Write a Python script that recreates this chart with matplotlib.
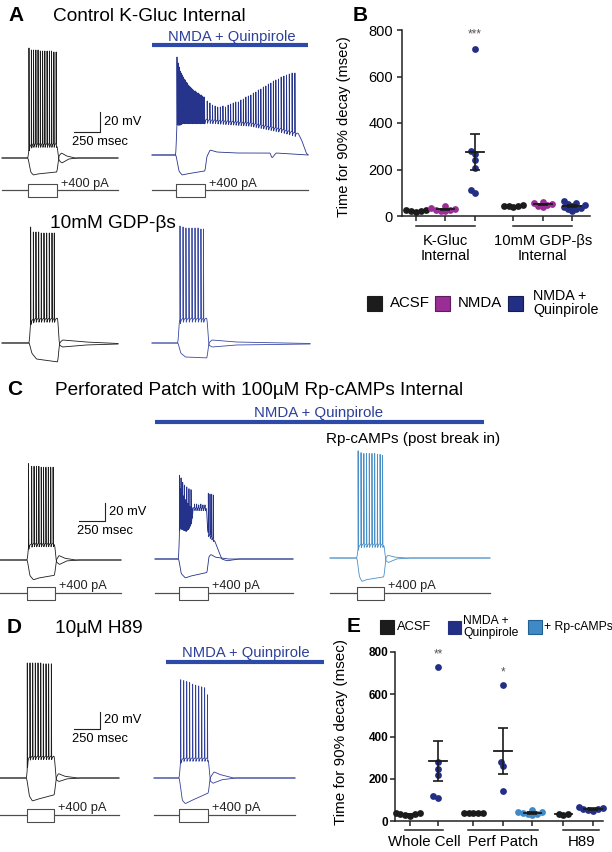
import numpy as np
import matplotlib
matplotlib.use('Agg')
import matplotlib.pyplot as plt
from matplotlib.patches import Rectangle
from matplotlib.lines import Line2D

plt.rcParams['font.family'] = ['Liberation Sans', 'DejaVu Sans']

# ---------------------------------------------------------------
# Membrane potential traces (ms, mV).
# *_dep / *_hyp : (time, mV) key points of the +400 / -400 pA sweeps
# *_spk_t / *_spk_v : spike times and spike peak voltages
# ---------------------------------------------------------------

# A - control K-Gluc, ACSF
ctl_dep = [(0, -70), (250, -70), (262, -57), (300, -55), (528, -55), (545, -72), (575, -75), (640, -71), (720, -70), (1114, -70)]
ctl_hyp = [(0, -70), (250, -70), (275, -84), (300, -87), (340, -86), (528, -84), (545, -68), (570, -65), (620, -68), (700, -70), (1114, -70)]
ctl_spk_t = [259, 282, 303, 325, 346, 368, 390, 411, 433, 455, 476, 498, 520]
ctl_spk_v = [40, 38, 38, 38, 38, 37, 37, 37, 37, 37, 37, 36, 36]

# A - control K-Gluc, NMDA + quinpirole
nq_dep = [(0, -70), (230, -70), (238, -36), (300, -33), (509, -33), (528, -34), (941, -37), (1229, -43), (1402, -48), (1440, -56), (1480, -68), (1498, -70)]
nq_hyp = [(0, -70), (230, -70), (258, -86), (288, -90), (330, -89), (509, -86), (525, -72), (557, -65), (620, -67), (800, -68), (1133, -68), (1152, -73), (1190, -68), (1498, -70)]
nq_spk_t = [240, 251, 261, 270, 280, 290, 300, 309, 319, 329, 339, 348, 358, 368, 378, 387, 397, 407, 417, 426, 436, 446, 456, 465, 475, 485, 495, 504,
            530, 556, 581, 606, 631, 656, 681, 706, 731, 755, 780, 804, 829, 853, 877, 901, 925, 949, 973, 997, 1021, 1045, 1069, 1093, 1117, 1141,
            1165, 1189, 1214, 1240, 1266, 1292, 1318, 1345, 1372]
nq_spk_v = [28, 22, 18, 14, 12, 10, 8, 6, 5, 3, 2, 0, -1, -2, -3, -4, -5, -6, -6, -7, -8, -8, -9, -10, -10, -11, -12, -12,
            -16, -18, -20, -21, -22, -22, -21, -22, -20, -19, -18, -17, -17, -15, -14, -12, -11, -10, -8, -7, -5, -4, -2, -1, 1, 2,
            4, 5, 6, 8, 9, 10, 11, 12, 12]

# A - 10mM GDP-bs, ACSF
gdp_dep = [(0, -70), (262, -70), (275, -47), (320, -45), (535, -45), (550, -72), (580, -74), (800, -72), (1114, -71)]
gdp_hyp = [(0, -70), (262, -70), (285, -80), (330, -86), (535, -89), (552, -70), (580, -67), (800, -69), (1114, -70.5)]
gdp_spk_t = [275, 301, 326, 352, 377, 403, 429, 454, 480, 502]
gdp_spk_v = [46, 41, 41, 41, 40, 40, 40, 40, 40, 40]

# A - 10mM GDP-bs, NMDA + quinpirole
gdpnq_dep = [(0, -70), (250, -70), (262, -47), (300, -45), (528, -45), (545, -72), (575, -74), (800, -72), (1517, -71)]
gdpnq_hyp = [(0, -70), (250, -70), (275, -80), (320, -84), (528, -85), (545, -70), (575, -67), (800, -69), (1517, -70.5)]
gdpnq_spk_t = [269, 298, 326, 355, 384, 413, 442, 470, 494]
gdpnq_spk_v = [47, 46, 45, 45, 45, 45, 45, 44, 44]

# C - perforated patch, ACSF
pp_dep = [(0, -70), (262, -70), (275, -53), (320, -51), (524, -51), (540, -72), (570, -75), (640, -71), (750, -70), (1163, -70)]
pp_hyp = [(0, -70), (262, -70), (285, -87), (320, -92), (370, -90), (524, -87), (540, -70), (565, -65), (620, -68), (720, -70), (1163, -70)]
pp_spk_t = [274, 304, 327, 350, 373, 396, 418, 441, 464, 487, 510]
pp_spk_v = [37, 34, 34, 34, 34, 33, 33, 33, 33, 33, 33]

# C - perforated patch, NMDA + quinpirole
ppnq_dep = [(0, -70), (228, -70), (236, -30), (300, -33), (350, -26), (365, -12), (495, -12), (505, -40), (565, -46), (590, -55), (640, -70), (690, -72), (800, -70), (1325, -70)]
ppnq_hyp = [(0, -70), (228, -70), (250, -86), (290, -91), (340, -89), (500, -85), (515, -68), (535, -65), (580, -68), (700, -70), (1325, -70)]
ppnq_spk_t = [235, 242, 250, 258, 266, 274, 282, 290, 297, 305, 313, 319, 326, 336, 346, 355, 380, 400, 420, 440, 460, 480, 512, 528, 544, 560]
ppnq_spk_v = [23, 8, 20, 2, 15, 0, 12, -4, -6, 10, -8, -9, 8, -12, 7, -13, -9, -9, -10, -9, -10, -10, 3, 2, 2, 1]

# C - Rp-cAMPs (post break in)
rp_dep = [(0, -70), (259, -70), (272, -56), (310, -54), (518, -54), (535, -73), (560, -75), (640, -71), (760, -70), (1536, -70)]
rp_hyp = [(0, -70), (259, -70), (280, -90), (305, -96), (350, -94), (518, -91), (535, -70), (555, -67), (620, -69), (720, -70), (1536, -70)]
rp_spk_t = [270, 298, 325, 351, 377, 403, 429, 455, 481, 505]
rp_spk_v = [49, 47, 46, 46, 46, 46, 46, 45, 45, 44]

# D - 10uM H89, ACSF
h89_dep = [(0, -70), (256, -70), (268, -47), (300, -45), (522, -45), (538, -72), (565, -74), (640, -71), (760, -70), (1142, -70)]
h89_hyp = [(0, -70), (256, -70), (280, -90), (310, -96), (360, -94), (522, -89), (538, -70), (560, -65), (620, -68), (740, -70), (1142, -70)]
h89_spk_t = [262, 288, 314, 339, 365, 391, 416, 442, 467, 493]
h89_spk_v = [60, 60, 60, 60, 60, 60, 59, 59, 59, 59]

# D - 10uM H89, NMDA + quinpirole
h89nq_dep = [(0, -70), (243, -70), (255, -49), (290, -47), (522, -47), (538, -73), (565, -76), (650, -72), (780, -70), (1354, -70)]
h89nq_hyp = [(0, -70), (243, -70), (270, -95), (300, -99), (350, -96), (522, -87), (538, -70), (575, -63), (630, -66), (760, -70), (1354, -70)]
h89nq_spk_t = [256, 285, 314, 342, 371, 400, 429, 458, 486, 513]
h89nq_spk_v = [41, 40, 39, 38, 36, 35, 34, 33, 32, 24]

# ---------------------------------------------------------------
# Time for 90% decay (msec)
# ---------------------------------------------------------------
b_groups = ['K-Gluc\nInternal', '10mM GDP-βs\nInternal']
kg_acsf = [16, 20, 22, 25, 26]
kg_nmda = [20, 22, 25, 27, 30, 35, 44]
kg_nq = [718, 278, 268, 240, 208, 110, 100]
gdp_acsf = [40, 42, 43, 44, 46]
gdp_nmda = [38, 45, 48, 52, 55, 60]
gdp_nq = [22, 28, 32, 35, 38, 42, 46, 52, 58, 65]

e_groups = ['Whole Cell', 'Perf Patch', 'H89']
wc_acsf = [25, 28, 31, 33, 36, 40]
wc_nq = [728, 280, 248, 218, 120, 110]
pp_acsf = [36, 37, 38, 39, 40]
pp_nq = [645, 278, 258, 140]
pp_rp = [28, 32, 35, 38, 41, 44, 50]
h89_acsf = [30, 32, 34]
h89_nq = [48, 52, 55, 58, 62, 66]

# colours
BLACK = '#1c1c1c'
MAGENTA = '#9b2d96'
NAVY = '#232f85'
LIGHT = '#3f8ac6'
BAR_BLUE = '#2d4aa8'
TXT_BLUE = '#2c4099'

W, H = 612, 852
fig = plt.figure(figsize=(W / 100, H / 100), dpi=100)


def box(left, top, width, height):
    return [left / W, 1 - (top + height) / H, width / W, height / H]


def fx(x):
    return x / W


def fy(y):
    return 1 - y / H


REST = -70
DT = 0.5
STEP_PA = 400
PA_PX = 400 / 6.5
AHP_MV = 4


def smooth(v, ms):
    n = max(int(ms / DT), 1)
    k = np.ones(n) / n
    vp = np.concatenate([np.full(n, v[0]), v, np.full(n, v[-1])])
    return np.convolve(vp, k, mode='same')[n:-n]


def build_vm(length, keys, spk_t=(), spk_v=()):
    t = np.arange(0, length + DT, DT)
    kt, kv = zip(*keys)
    v = smooth(np.interp(t, kt, kv), 12)
    for ts, pk in zip(spk_t, spk_v):
        base = np.interp(ts, t, v)
        shape = np.where(t <= ts, 1 - (ts - t) / 1.0, 1 - (t - ts) / 2.5)
        after = t - ts
        ahp = np.where(after > 0, np.clip(after / 3.0, 0, 1)
                       * np.exp(-np.clip(after - 3, 0, None) / 8.0), 0)
        v = v + (pk - base) * np.clip(shape, 0, None) - AHP_MV * ahp
    return t, v


def draw_cell(x0, x1, y_base, ms_px, mv_px, t_on, t_off, dep, hyp, spk_t, spk_v,
              color, y_cur=None, fs=9):
    length = (x1 - x0) * ms_px
    ax = fig.add_axes(box(x0, y_base - 150, x1 - x0, 210))
    ax.set_xlim(0, length)
    ax.set_ylim(REST - 60 * mv_px, REST + 150 * mv_px)
    ax.axis('off')
    for keys, st, sv in ((hyp, (), ()), (dep, spk_t, spk_v)):
        t, v = build_vm(length, keys, st, sv)
        ax.plot(t, v, color=color, lw=0.6, clip_on=False)
    if y_cur is not None:
        cax = fig.add_axes(box(x0, y_cur - 15, x1 - x0, 30))
        cax.set_xlim(0, length)
        cax.set_ylim(-15 * PA_PX, 15 * PA_PX)
        cax.axis('off')
        for amp in (STEP_PA, -STEP_PA):
            cax.plot([0, t_on, t_on, t_off, t_off, length], [0, 0, amp, amp, 0, 0],
                     color='#4d4d4d', lw=0.8, clip_on=False)
        cax.text(t_off + 4 * ms_px, STEP_PA, '+400 pA', fontsize=fs, va='center',
                 ha='left', color='#222222')
    return ax


def scale_bar(ax, t_right, v_bottom, ms_px, mv_px, fs):
    ax.plot([t_right - 250, t_right, t_right], [v_bottom, v_bottom, v_bottom + 20],
            color='#222222', lw=0.8, clip_on=False)
    ax.text(t_right + 4 * ms_px, v_bottom + 10, '20 mV', fontsize=fs, va='center')
    ax.text(t_right - 250 - 2 * ms_px, v_bottom - 10 * mv_px, '250 msec', fontsize=fs,
            va='center')


def drug_bar(x0, x1, y, label, lab_x, lab_y, fs, lw):
    fig.add_artist(Line2D([fx(x0), fx(x1)], [fy(y), fy(y)], transform=fig.transFigure,
                          color=BAR_BLUE, lw=lw, solid_capstyle='butt'))
    fig.text(fx(lab_x), fy(lab_y), label, ha='center', va='baseline', fontsize=fs,
             color=TXT_BLUE)


# ---------------- A ----------------
fig.text(fx(8), fy(21), 'A', fontsize=15, fontweight='bold', va='baseline')
fig.text(fx(53), fy(21), 'Control K-Gluc Internal', fontsize=13.7, va='baseline')
drug_bar(152, 308, 45, 'NMDA + Quinpirole', 232, 41, 10.6, 3)

ax = draw_cell(2, 118, 158, 9.6, 1.0, 250, 528, ctl_dep, ctl_hyp, ctl_spk_t, ctl_spk_v,
               BLACK, y_cur=190, fs=9.2)
scale_bar(ax, 941, -44, 9.6, 1.0, 9.3)
draw_cell(152, 308, 155, 9.6, 1.0, 230, 509, nq_dep, nq_hyp, nq_spk_t, nq_spk_v,
          '#27348c', y_cur=190, fs=9.2)

fig.text(fx(50), fy(228), '10mM GDP-βs', fontsize=13.7, va='baseline')
draw_cell(2, 118, 343, 9.6, 1.0, 262, 535, gdp_dep, gdp_hyp, gdp_spk_t, gdp_spk_v, BLACK)
draw_cell(152, 310, 343, 9.6, 1.0, 250, 528, gdpnq_dep, gdpnq_hyp, gdpnq_spk_t,
          gdpnq_spk_v, '#3b4aa3')

# ---------------- C ----------------
fig.text(fx(7), fy(395), 'C', fontsize=15, fontweight='bold', va='baseline')
fig.text(fx(55), fy(395), 'Perforated Patch with 100µM Rp-cAMPs Internal', fontsize=13.7,
         va='baseline')
drug_bar(155, 484, 422, 'NMDA + Quinpirole', 319, 417, 10.8, 3)
fig.text(fx(326), fy(443), 'Rp-cAMPs (post break in)', fontsize=11, va='baseline')

ax = draw_cell(0, 121, 560, 9.6, 1.11, 262, 530, pp_dep, pp_hyp, pp_spk_t, pp_spk_v,
               BLACK, y_cur=593, fs=9.2)
scale_bar(ax, 1005, -26.7, 9.6, 1.11, 9.3)
draw_cell(155, 293, 559, 9.6, 1.11, 228, 505, ppnq_dep, ppnq_hyp, ppnq_spk_t, ppnq_spk_v,
          '#24328a', y_cur=593, fs=9.2)
draw_cell(330, 490, 558, 9.6, 1.11, 259, 518, rp_dep, rp_hyp, rp_spk_t, rp_spk_v,
          '#4a90c8', y_cur=593, fs=9.2)

# ---------------- D ----------------
fig.text(fx(7), fy(633), 'D', fontsize=15, fontweight='bold', va='baseline')
fig.text(fx(55), fy(633), '10µM H89', fontsize=13.7, va='baseline')
drug_bar(166, 324, 662, 'NMDA + Quinpirole', 246, 657, 10.6, 3)

ax = draw_cell(0, 119, 778, 9.6, 1.13, 256, 522, h89_dep, h89_hyp, h89_spk_t, h89_spk_v,
               BLACK, y_cur=815, fs=9.3)
scale_bar(ax, 960, -15, 9.6, 1.13, 9.3)
draw_cell(154, 295, 778, 9.6, 1.13, 243, 522, h89nq_dep, h89nq_hyp, h89nq_spk_t,
          h89nq_spk_v, '#33409a', y_cur=815, fs=9.3)


# ---------------- scatter panels ----------------
def swarm(y_px, d=4.6, step=0.8):
    xs = np.zeros(len(y_px))
    placed = []
    cands = sorted(np.arange(-20, 20.01, step), key=abs)
    for i in np.argsort(y_px):
        for c in cands:
            if all((c - px) ** 2 + (y_px[i] - py) ** 2 >= d * d for px, py in placed):
                break
        placed.append((c, y_px[i]))
        xs[i] = c
    return xs


def dot_panel(left, top, width, height, pos, groups, colors, xlim, spans, labels,
              tick_fs, tick_bold, tick_pad, lab_fs, group_fs, lab_xy, group_y):
    ax = fig.add_axes(box(left, top, width, height))
    ax.set_xlim(*xlim)
    ax.set_ylim(0, 800)
    ppv = height / 800
    ppu = width / (xlim[1] - xlim[0])
    for p, vals, c in zip(pos, groups, colors):
        vals = np.asarray(vals, float)
        off = swarm(vals * ppv) / ppu
        ax.scatter(p + off, vals, s=24, color=c, lw=0, zorder=3, clip_on=False)
        m = vals.mean()
        se = vals.std(ddof=1) / np.sqrt(len(vals))
        ax.plot([p - 0.3, p + 0.3], [m, m], color='#1a1a1a', lw=1.3, zorder=4,
                clip_on=False)
        ax.errorbar(p, m, yerr=se, color='#1a1a1a', lw=1.2, capsize=3.5,
                    capthick=1.2, zorder=4, clip_on=False)
    for side in ('top', 'right'):
        ax.spines[side].set_visible(False)
    for side in ('left', 'bottom'):
        ax.spines[side].set_linewidth(1.1)
        ax.spines[side].set_color('#222222')
    ax.set_xticks(pos)
    ax.set_xticklabels([])
    ax.set_yticks([0, 200, 400, 600, 800])
    ax.tick_params(length=3.6, width=1.1, color='#222222')
    ax.tick_params(axis='y', labelsize=tick_fs, pad=tick_pad)
    if tick_bold:
        for lab in ax.get_yticklabels():
            lab.set_fontweight('bold')
    ax.set_ylabel('Time for 90% decay (msec)', fontsize=lab_fs)
    ax.yaxis.set_label_coords(*lab_xy)
    trans = ax.get_xaxis_transform()
    for (a, b), lab in zip(spans, labels):
        ax.plot([a, b], [-0.054, -0.054], transform=trans, color='#222222', lw=1.1,
                clip_on=False)
        ax.text((a + b) / 2, group_y, lab, transform=trans, ha='center', va='top',
                fontsize=group_fs, linespacing=1.1)
    return ax


def legend_item(x, y, size, color, label, fs, dx=5, edge=None):
    fig.add_artist(Rectangle((fx(x), fy(y + size / 2)), size / W, size / H,
                             transform=fig.transFigure, facecolor=color,
                             edgecolor=edge or color, lw=0.8))
    fig.text(fx(x + size + dx), fy(y), label, va='center', ha='left', fontsize=fs,
             linespacing=1.0)


# ---------------- B ----------------
fig.text(fx(353), fy(21), 'B', fontsize=15, fontweight='bold', va='baseline')
b_pos = [1, 2, 3, 4.3, 5.3, 6.3]
axb = dot_panel(402, 30, 188, 186, b_pos,
                [kg_acsf, kg_nmda, kg_nq, gdp_acsf, gdp_nmda, gdp_nq],
                [BLACK, MAGENTA, NAVY, BLACK, MAGENTA, NAVY],
                (0.525, 6.9), [(1, 3), (4.3, 6.3)], b_groups,
                10.5, False, 3, 10.6, 10.6, (-0.27, 0.48), -0.095)
axb.text(3, 783, '***', ha='center', va='center', fontsize=8.5, color='#555555')

legend_item(367, 303, 15, BLACK, 'ACSF', 10.8, dx=8)
legend_item(435, 303, 15, MAGENTA, 'NMDA', 10.8, dx=8, edge='#5e1a5b')
legend_item(508, 303, 15, NAVY, 'NMDA +\nQuinpirole', 10.3, dx=10, edge='#151c55')

# ---------------- E ----------------
fig.text(fx(347), fy(632), 'E', fontsize=15, fontweight='bold', va='baseline')
e_pos = [1, 1.95, 3.15, 4.15, 5.15, 6.2, 7.2]
axe = dot_panel(395, 652, 208, 169, e_pos,
                [wc_acsf, wc_nq, pp_acsf, pp_nq, pp_rp, h89_acsf, h89_nq],
                [BLACK, NAVY, BLACK, NAVY, LIGHT, BLACK, NAVY],
                (0.49, 7.54), [(0.83, 2.12), (2.95, 5.35), (6.2, 7.4)], e_groups,
                8.5, True, 1, 11, 10.8, (-0.226, 0.527), -0.085)
axe.text(1.95, 790, '**', ha='center', va='center', fontsize=8.5, color='#555555')
axe.text(4.15, 705, '*', ha='center', va='center', fontsize=8.5, color='#555555')

legend_item(380, 627, 14, BLACK, 'ACSF', 9.3, dx=3)
legend_item(448, 627, 13, NAVY, 'NMDA +\nQuinpirole', 8.7, dx=2)
legend_item(528, 627, 14, LIGHT, '+ Rp-cAMPs', 8.8, dx=2, edge='#225e91')

fig.savefig('out.png', dpi=100)
